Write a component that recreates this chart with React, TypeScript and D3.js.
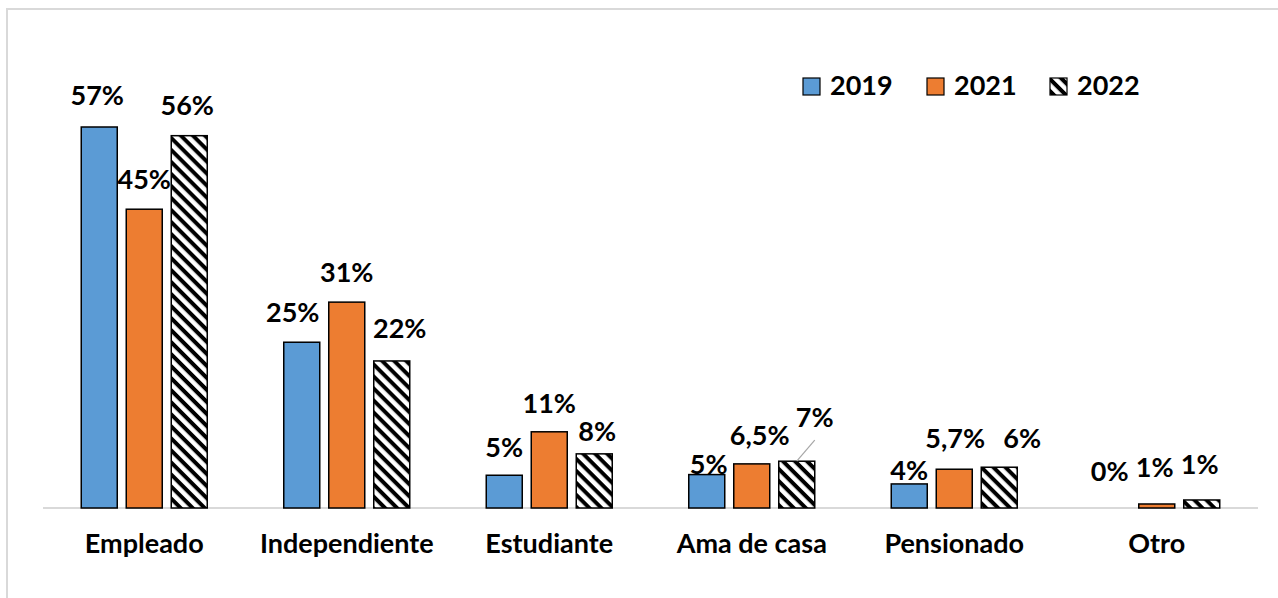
import React, { useEffect, useRef } from 'react'
import * as d3 from 'd3'

const categories = ['Empleado', 'Independiente', 'Estudiante', 'Ama de casa', 'Pensionado', 'Otro']
const years = ['2019', '2021', '2022']
const values2019 = [57, 24.8, 4.9, 5, 3.6, 0]
const values2021 = [44.7, 30.8, 11.4, 6.6, 5.8, 0.6]
const values2022 = [55.7, 22, 8.1, 7, 6.1, 1.2]
const labels2019 = ['57%', '25%', '5%', '5%', '4%', '0%']
const labels2021 = ['45%', '31%', '11%', '6,5%', '5,7%', '1%']
const labels2022 = ['56%', '22%', '8%', '7%', '6%', '1%']

// manual nudges of the data labels (dx, dy from the bar top centre), like Excel's dragged labels
const labelNudge = [
  [[-2, -22], [-9, -20], [0, -18], [2, -1], [0, -4], [-2, -27]],
  [[0, -20], [0, -20], [0, -19], [8, -19], [1, -21], [-2, -27]],
  [[-2, -21], [8, -23], [3, -13], [18, -34], [23, -19], [-2, -26]]
]

const W = 1278
const H = 598
const colors = ['#5B9BD5', '#ED7D31', 'url(#hatch)']

export default function App() {
  const ref = useRef<SVGSVGElement>(null)

  useEffect(() => {
    const svg = d3.select(ref.current)
    svg.selectAll('*').remove()
    const font = 'Lato, "Open Sans", sans-serif'

    const defs = svg.append('defs')
    const pat = defs.append('pattern')
      .attr('id', 'hatch')
      .attr('patternUnits', 'userSpaceOnUse')
      .attr('width', 8.5).attr('height', 8.5)
      .attr('patternTransform', 'rotate(45)')
    pat.append('rect').attr('width', 8.5).attr('height', 8.5).attr('fill', 'white')
    pat.append('rect').attr('width', 8.5).attr('height', 4).attr('fill', 'black')

    // chart frame
    svg.append('rect')
      .attr('x', 7).attr('y', 9).attr('width', W + 20).attr('height', H + 20)
      .attr('fill', 'white').attr('stroke', '#d9d9d9').attr('stroke-width', 2)

    const baseY = 508
    const x = d3.scaleBand().domain(categories).range([43, 1258])
    const y = d3.scaleLinear().domain([0, 57]).range([baseY, 127])

    const series = [values2019, values2021, values2022]
    const labels = [labels2019, labels2021, labels2022]
    const barW = 36
    const gap = 9
    const xSub = d3.scaleOrdinal<string, number>().domain(years).range([-barW * 1.5 - gap, -barW / 2, barW / 2 + gap])
    const barX = (ci: number, si: number) => x(categories[ci])! + x.bandwidth() / 2 + xSub(years[si])

    // baseline
    svg.append('line')
      .attr('x1', 43).attr('x2', 1258)
      .attr('y1', baseY).attr('y2', baseY)
      .attr('stroke', '#d9d9d9').attr('stroke-width', 2)

    series.forEach((vals, si) => {
      svg.append('g').selectAll('rect')
        .data(vals)
        .enter().append('rect')
        .attr('x', (d, i) => barX(i, si))
        .attr('y', d => y(d))
        .attr('width', barW)
        .attr('height', d => baseY - y(d))
        .attr('fill', colors[si])
        .attr('stroke', d => d > 0 ? 'black' : 'none')
        .attr('stroke-width', 1.5)
    })

    // leader line for the 7% label in Ama de casa
    const ci = 3
    const lx = barX(ci, 2) + barW / 2
    svg.append('line')
      .attr('x1', lx).attr('y1', y(values2022[ci]))
      .attr('x2', lx + 18).attr('y2', y(values2022[ci]) - 21)
      .attr('stroke', '#a6a6a6').attr('stroke-width', 1.2)

    series.forEach((vals, si) => {
      svg.append('g').selectAll('text')
        .data(vals)
        .enter().append('text')
        .attr('x', (d, i) => barX(i, si) + barW / 2 + labelNudge[si][i][0])
        .attr('y', (d, i) => y(d) + labelNudge[si][i][1])
        .attr('text-anchor', 'middle')
        .style('font-family', font)
        .style('font-weight', 700)
        .style('font-size', '27px')
        .attr('fill', 'black')
        .text((d, i) => labels[si][i])
    })

    // category labels
    svg.append('g').selectAll('text')
      .data(categories)
      .enter().append('text')
      .attr('x', d => x(d)! + x.bandwidth() / 2)
      .attr('y', 553)
      .attr('text-anchor', 'middle')
      .style('font-family', font)
      .style('font-weight', 700)
      .style('font-size', '27px')
      .text(d => d)

    // legend
    const legX = [803, 927, 1050]
    const legend = svg.append('g')
    years.forEach((yr, i) => {
      legend.append('rect')
        .attr('x', legX[i]).attr('y', 78).attr('width', 17).attr('height', 17)
        .attr('fill', colors[i]).attr('stroke', 'black').attr('stroke-width', 1.2)
      legend.append('text')
        .attr('x', legX[i] + 27).attr('y', 95)
        .style('font-family', font)
        .style('font-weight', 700)
        .style('font-size', '27px')
        .text(yr)
    })
  }, [])

  return (
    <svg ref={ref} width={W} height={H} style={{ position: 'absolute', left: 0, top: 0, background: 'white' }} />
  )
}
